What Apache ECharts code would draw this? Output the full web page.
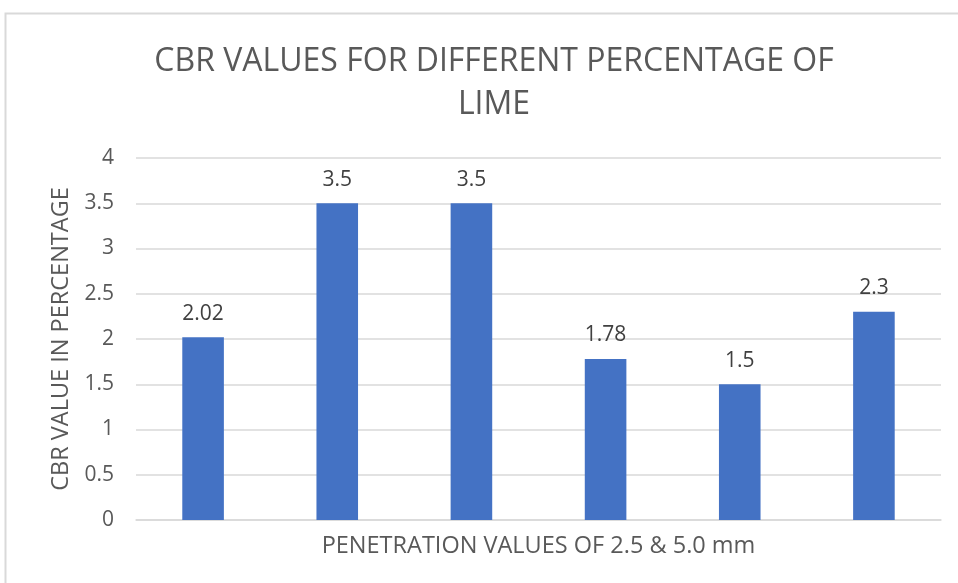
<!DOCTYPE html>
<html><head><meta charset="utf-8">
<script src="https://cdn.jsdelivr.net/npm/echarts@6/dist/echarts.min.js"></script>
<style>html,body{margin:0;padding:0;background:#fff}#c{width:958px;height:583px}</style>
</head><body><div id="c"></div>
<script>
const categories = ["1", "2", "3", "4", "5", "6"];
const cbrValues = [2.02, 3.5, 3.5, 1.78, 1.5, 2.3];
const titleText = "CBR VALUES FOR DIFFERENT PERCENTAGE OF\nLIME";
const xName = "PENETRATION VALUES OF 2.5 & 5.0 mm";
const yName = "CBR VALUE IN PERCENTAGE";

const FONT = "'Open Sans', 'Noto Sans', sans-serif";
const chart = echarts.init(document.getElementById('c'), null, {renderer: 'canvas'});
chart.setOption({
  animation: false,
  backgroundColor: '#fff',
  graphic: [{
    type: 'rect', shape: {x: 5.5, y: 13.5, width: 1000, height: 700},
    style: {fill: 'none', stroke: '#d9d9d9', lineWidth: 2}, silent: true, z: -1
  }],
  title: {
    text: titleText, left: 489, textAlign: 'center', top: 35,
    textStyle: {fontFamily: FONT, fontWeight: 'normal', fontSize: 32, color: '#595959', lineHeight: 43}
  },
  grid: {left: 136, right: 17, top: 158, bottom: 63},
  xAxis: {
    type: 'category', data: categories,
    axisLine: {lineStyle: {color: '#d9d9d9', width: 1.5}},
    axisTick: {show: false}, axisLabel: {show: false},
    name: xName, nameLocation: 'middle', nameGap: 14,
    nameTextStyle: {fontFamily: FONT, fontSize: 23.5, color: '#595959'}
  },
  yAxis: {
    type: 'value', min: 0, max: 4, interval: 0.5,
    axisLine: {show: false}, axisTick: {show: false},
    splitLine: {lineStyle: {color: '#d9d9d9', width: 1.5}},
    axisLabel: {fontFamily: FONT, fontSize: 21, color: '#595959', margin: 22},
    name: yName, nameLocation: 'middle', nameGap: 49,
    nameTextStyle: {fontFamily: FONT, fontSize: 23.5, color: '#595959'}
  },
  series: [{
    type: 'bar', data: cbrValues, barWidth: '31%',
    itemStyle: {color: '#4472C4'},
    label: {show: true, position: 'top', distance: 13, fontFamily: FONT, fontSize: 21, color: '#404040'}
  }]
});
</script></body></html>
